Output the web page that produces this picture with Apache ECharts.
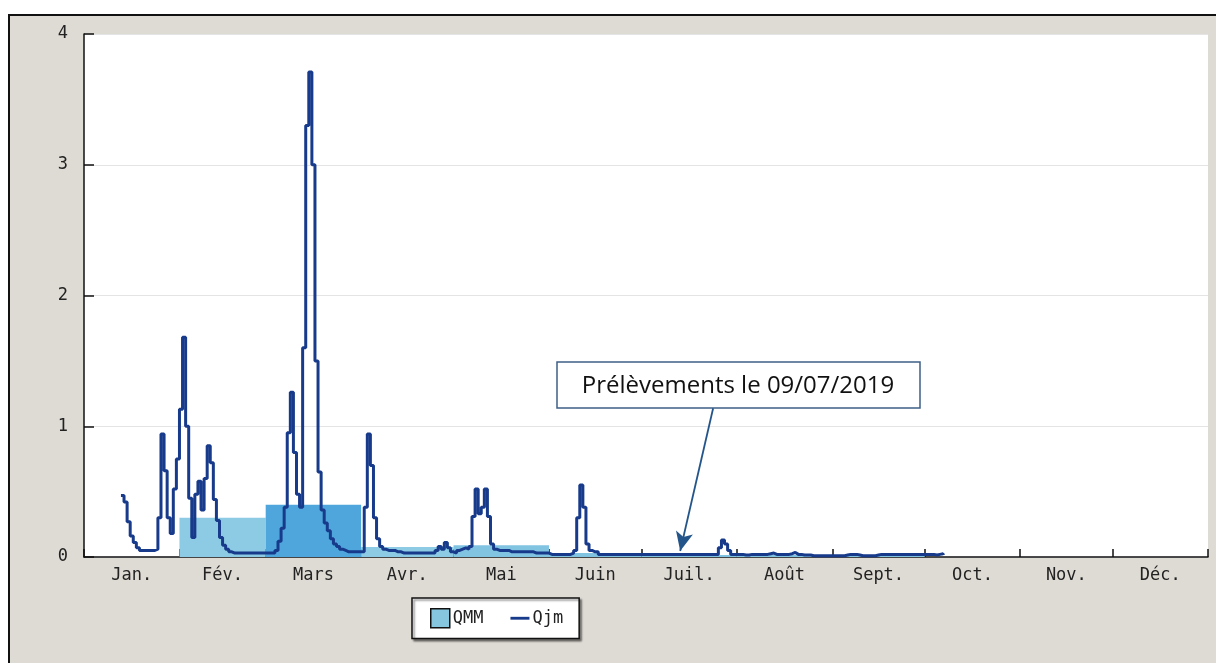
<!DOCTYPE html>
<html>
<head>
<meta charset="utf-8">
<script src="https://cdn.jsdelivr.net/npm/echarts@6/dist/echarts.min.js"></script>
<style>
  html, body { margin: 0; padding: 0; background: #ffffff; }
  #chart { width: 1216px; height: 663px; }
</style>
</head>
<body>
<div id="chart"></div>
<script>
let monthNames = ['Jan.', 'Fév.', 'Mars', 'Avr.', 'Mai', 'Juin', 'Juil.', 'Août', 'Sept.', 'Oct.', 'Nov.', 'Déc.'];
let monthStarts = [0, 31, 59, 90, 120, 151, 181, 212, 243, 273, 304, 334, 365];

// débit moyen mensuel (QMM), null = pas de valeur
let qmm = [null, 0.30, 0.40, 0.077, 0.09, 0.03, 0.015, 0.015, 0.01, null, null, null];

// débit journalier (Qjm), un tableau par mois
let qjmJan = [null, null, null, null, null, null, null, null, null, null, null, null,
    0.47, 0.42, 0.27, 0.16, 0.11, 0.07, 0.05, 0.05, 0.05, 0.05, 0.05, 0.06, 0.30, 0.94, 0.66, 0.30, 0.18, 0.52, 0.75];
let qjmFev = [1.13, 1.68, 1.00, 0.45, 0.15, 0.48, 0.58, 0.36, 0.60, 0.85, 0.72, 0.44, 0.28, 0.15, 0.09, 0.06, 0.04,
    0.03, 0.03, 0.03, 0.03, 0.03, 0.03, 0.03, 0.03, 0.03, 0.03, 0.03];
let qjmMars = [0.03, 0.03, 0.03, 0.05, 0.12, 0.22, 0.38, 0.95, 1.26, 0.80, 0.48, 0.38, 1.60, 3.30, 3.71, 3.00,
    1.50, 0.65, 0.36, 0.26, 0.20, 0.14, 0.10, 0.08, 0.06, 0.05, 0.04, 0.04, 0.04, 0.04, 0.04];
let qjmAvr = [0.04, 0.38, 0.94, 0.70, 0.30, 0.14, 0.08, 0.06, 0.05, 0.05, 0.05, 0.04, 0.04, 0.03, 0.03, 0.03,
    0.03, 0.03, 0.03, 0.03, 0.03, 0.03, 0.03, 0.03, 0.05, 0.08, 0.06, 0.11, 0.07, 0.04];
let qjmMai = [0.03, 0.05, 0.06, 0.07, 0.06, 0.08, 0.31, 0.52, 0.33, 0.38, 0.52, 0.31, 0.10, 0.06, 0.05, 0.05,
    0.05, 0.05, 0.04, 0.04, 0.04, 0.04, 0.04, 0.04, 0.04, 0.04, 0.03, 0.03, 0.03, 0.03, 0.03];
let qjmJuin = [0.02, 0.02, 0.02, 0.02, 0.02, 0.02, 0.02, 0.03, 0.05, 0.30, 0.55, 0.38, 0.10, 0.05, 0.04, 0.04,
    0.02, 0.02, 0.02, 0.02, 0.02, 0.02, 0.02, 0.02, 0.02, 0.02, 0.02, 0.02, 0.02, 0.02];
let qjmJuil = [0.02, 0.02, 0.02, 0.02, 0.02, 0.02, 0.02, 0.02, 0.02, 0.02, 0.02, 0.02, 0.02, 0.02, 0.02, 0.02,
    0.02, 0.02, 0.02, 0.02, 0.02, 0.02, 0.02, 0.02, 0.02, 0.07, 0.13, 0.10, 0.05, 0.02, 0.02];
let qjmAout = [0.02, 0.02, 0.015, 0.015, 0.02, 0.02, 0.02, 0.02, 0.02, 0.02, 0.025, 0.03, 0.02, 0.02, 0.02, 0.02,
    0.02, 0.025, 0.035, 0.02, 0.02, 0.015, 0.015, 0.015, 0.01, 0.01, 0.01, 0.01, 0.01, 0.01, 0.01];
let qjmSept = [0.01, 0.01, 0.01, 0.01, 0.015, 0.02, 0.02, 0.02, 0.015, 0.01, 0.01, 0.01, 0.01, 0.01, 0.015,
    0.02, 0.02, 0.02, 0.02, 0.02, 0.02, 0.02, 0.02, 0.02, 0.02, 0.02, 0.02, 0.02, 0.02, 0.02];
let qjmOct = [0.02, 0.02, 0.02, 0.015, 0.02, 0.025, 0.015];

let yTicks = [0, 1, 2, 3, 4];
let sampleDay = 193.6; // pointe de la flèche
let sampleLabel = 'Prélèvements le 09/07/2019';

let qmmFill = ['#8ccbe3', '#8ccbe3', '#4ea6dc', '#8ccbe3', '#80c4e2', '#80c4e2', '#80c4e2', '#80c4e2', '#80c4e2', '#80c4e2', '#80c4e2', '#80c4e2'];

let qjm = [].concat(qjmJan, qjmFev, qjmMars, qjmAvr, qjmMai, qjmJuin, qjmJuil, qjmAout, qjmSept, qjmOct);
let qjmData = [];
for (let i = 0; i < qjm.length; i++) {
    if (qjm[i] !== null) {
        qjmData.push([i, qjm[i]]);
    }
}

let qmmData = [];
for (let m = 0; m < qmm.length; m++) {
    if (qmm[m] !== null) {
        qmmData.push([monthStarts[m], monthStarts[m + 1], qmm[m], m]);
    }
}

let monthMids = [];
for (let m = 0; m < 12; m++) {
    monthMids.push((monthStarts[m] + monthStarts[m + 1]) / 2);
}

let axisFont = 'DejaVu Sans Mono';
let lineColor = '#173a8a';

let chart = echarts.init(document.getElementById('chart'));
let option = {
    animation: false,
    graphic: [{
        type: 'rect',
        z: -10,
        shape: { x: 9, y: 15, width: 1240, height: 700 },
        style: { fill: '#dedad4', stroke: '#111', lineWidth: 2 }
    }, {
        type: 'group',
        z: 100,
        children: [{
            type: 'rect',
            shape: { x: 557, y: 362, width: 363, height: 46 },
            style: { fill: '#ffffff', stroke: '#3d5f85', lineWidth: 1.5 }
        }, {
            type: 'text',
            x: 738,
            y: 386,
            style: {
                text: sampleLabel,
                font: '24px "Open Sans"',
                fill: '#111',
                align: 'center',
                verticalAlign: 'middle'
            }
        }]
    }],
    grid: {
        left: 84,
        top: 34,
        right: 8,
        bottom: 106,
        show: true,
        backgroundColor: '#ffffff',
        borderWidth: 0
    },
    legend: {
        left: 412,
        top: 598,
        padding: [10, 16, 10, 18],
        backgroundColor: '#ffffff',
        borderColor: '#111',
        borderWidth: 1.5,
        shadowColor: 'rgba(0,0,0,0.45)',
        shadowOffsetX: 2,
        shadowOffsetY: 2,
        shadowBlur: 2,
        itemWidth: 19,
        itemHeight: 19,
        itemGap: 27,
        textStyle: { fontFamily: axisFont, fontSize: 17, color: '#222', padding: [0, 0, 0, -2] },
        data: [{
            name: 'QMM',
            icon: 'rect',
            itemStyle: { color: '#86c6de', borderColor: '#111', borderWidth: 1.5 }
        }, {
            name: 'Qjm',
            icon: 'path://M0,0 M20,20 M0,8.5 L20,8.5 L20,11.5 L0,11.5 Z',
            itemStyle: { color: lineColor, borderWidth: 0 }
        }]
    },
    xAxis: {
        type: 'value',
        min: 0,
        max: 365,
        axisLine: { show: true, lineStyle: { color: '#111', width: 1.5 } },
        axisTick: {
            show: true,
            inside: true,
            length: 8,
            customValues: monthStarts,
            lineStyle: { color: '#111', width: 1.5 }
        },
        axisLabel: {
            customValues: monthMids,
            margin: 10,
            fontFamily: axisFont,
            fontSize: 17,
            color: '#222',
            formatter: function (value) {
                let idx = monthMids.indexOf(value);
                return idx >= 0 ? monthNames[idx] : '';
            }
        },
        splitLine: { show: false }
    },
    yAxis: {
        type: 'value',
        min: yTicks[0],
        max: yTicks[yTicks.length - 1],
        interval: 1,
        axisLine: { show: true, lineStyle: { color: '#111', width: 1.5 } },
        axisTick: { show: true, inside: true, length: 10, lineStyle: { color: '#111', width: 1.5 } },
        axisLabel: { margin: 16, fontFamily: axisFont, fontSize: 17, color: '#222' },
        splitLine: { show: true, lineStyle: { color: '#e4e4e4', width: 1 } }
    },
    series: [{
        name: 'QMM',
        type: 'custom',
        z: 1,
        itemStyle: { color: '#86c6de' },
        encode: { x: [0, 1], y: 2 },
        data: qmmData,
        renderItem: function (params, api) {
            let p0 = api.coord([api.value(0), api.value(2)]);
            let p1 = api.coord([api.value(1), 0]);
            return {
                type: 'rect',
                shape: { x: p0[0], y: p0[1], width: p1[0] - p0[0], height: p1[1] - p0[1] },
                style: { fill: qmmFill[api.value(3)] }
            };
        }
    }, {
        name: 'Qjm',
        type: 'line',
        z: 2,
        step: 'end',
        showSymbol: false,
        symbol: 'none',
        data: qjmData,
        itemStyle: { color: lineColor },
        lineStyle: { color: lineColor, width: 3 },
        markLine: {
            silent: true,
            symbol: ['none', 'arrow'],
            symbolSize: [13, 19],
            label: { show: false },
            lineStyle: { color: '#24558a', width: 1.8, type: 'solid' },
            data: [[
                { coord: [204.3, 1.138] },
                { coord: [sampleDay, 0.046] }
            ]]
        }
    }]
};
chart.setOption(option);
</script>
</body>
</html>
